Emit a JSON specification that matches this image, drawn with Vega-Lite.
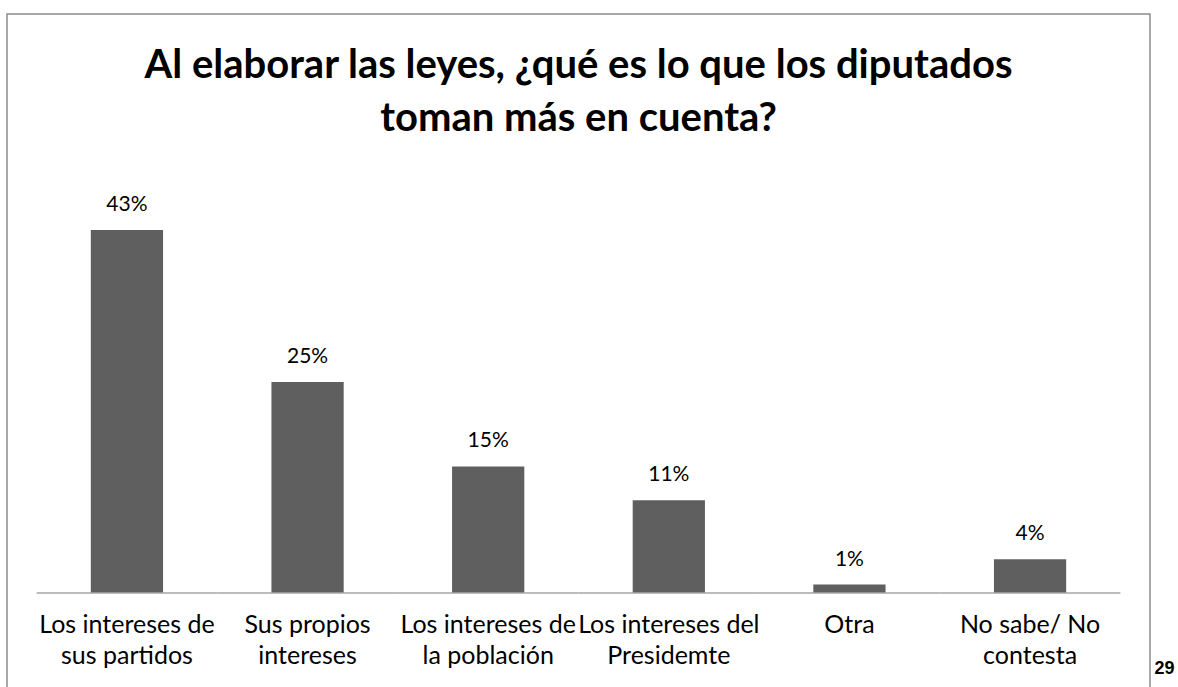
{
  "$schema": "https://vega.github.io/schema/vega-lite/v6.json",
  "autosize": {"type": "none"},
  "padding": {"left": 7, "top": 14, "right": 28, "bottom": 0},
  "width": 1143,
  "height": 673,
  "background": "white",
  "config": {
    "view": {"stroke": "#8c8c8c", "strokeWidth": 1.5, "strokeDash": [1816, 1143, 673]},
    "font": "Lato"
  },
  "title": {
    "text": ["Al elaborar las leyes, ¿qué es lo que los diputados", "toman más en cuenta?"],
    "font": "Lato",
    "fontSize": 40,
    "fontWeight": "bold",
    "color": "#000000",
    "anchor": "middle",
    "frame": "group",
    "lineHeight": 53,
    "baseline": "alphabetic",
    "offset": -157
  },
  "data": {
    "values": [
      {"categoria": "Los intereses de\nsus partidos", "porcentaje": 0.43},
      {"categoria": "Sus propios\nintereses", "porcentaje": 0.25},
      {"categoria": "Los intereses de\nla población", "porcentaje": 0.15},
      {"categoria": "Los intereses del\nPresidemte", "porcentaje": 0.11},
      {"categoria": "Otra", "porcentaje": 0.01},
      {"categoria": "No sabe/ No\ncontesta", "porcentaje": 0.04}
    ]
  },
  "encoding": {
    "x": {
      "field": "categoria",
      "type": "nominal",
      "sort": null,
      "scale": {"paddingInner": 0.6, "paddingOuter": 0.464},
      "axis": {
        "title": null,
        "orient": "bottom",
        "offset": -94,
        "domain": false,
        "ticks": false,
        "labelAngle": 0,
        "labelPadding": 19,
        "labelFont": "Lato",
        "labelFontSize": 25,
        "labelColor": "#000000",
        "labelLineHeight": 31,
        "labelLimit": 300,
        "labelExpr": "split(datum.value, '\\n')"
      }
    }
  },
  "layer": [
    {
      "mark": {"type": "bar", "color": "#5f5f5f"},
      "encoding": {
        "y": {
          "field": "porcentaje",
          "type": "quantitative",
          "scale": {"domain": [-0.1114, 0.686], "nice": false, "zero": false},
          "axis": {
            "orient": "right",
            "domain": false,
            "ticks": false,
            "labels": false,
            "grid": false,
            "title": "29",
            "titleAngle": 0,
            "titleAlign": "left",
            "titleBaseline": "alphabetic",
            "titleX": 4,
            "titleY": 659,
            "titleFont": "Liberation Sans",
            "titleFontSize": 18,
            "titleFontWeight": "bold",
            "titleColor": "#000000"
          }
        },
        "y2": {"datum": 0}
      }
    },
    {
      "mark": {"type": "bar", "fill": null, "stroke": "#a6a6a6", "strokeWidth": 1.5, "width": {"band": 2.5}},
      "encoding": {
        "y": {"datum": 0, "type": "quantitative"},
        "y2": {"datum": 0}
      }
    },
    {
      "mark": {"type": "text", "baseline": "alphabetic", "dy": -19, "fontSize": 21, "font": "Lato", "color": "#000000"},
      "encoding": {
        "y": {"field": "porcentaje", "type": "quantitative"},
        "text": {"field": "porcentaje", "type": "quantitative", "format": ".0%"}
      }
    }
  ]
}
